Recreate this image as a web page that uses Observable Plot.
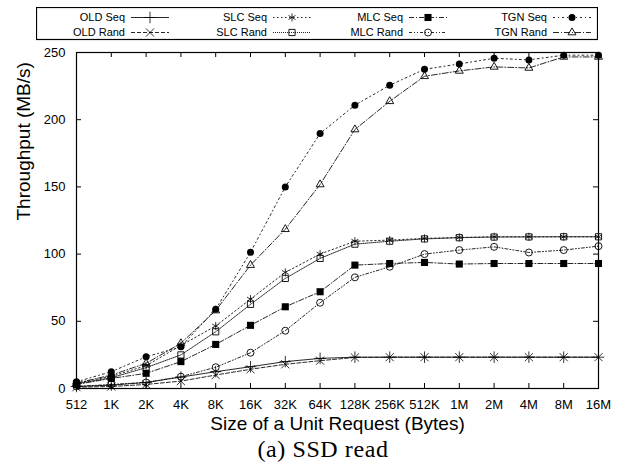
<!DOCTYPE html>
<html><head><meta charset="utf-8">
<script src="https://cdn.jsdelivr.net/npm/d3@7"></script>
<script src="https://cdn.jsdelivr.net/npm/@observablehq/plot@0.6"></script>
<style>
html,body{margin:0;padding:0;background:#fff;}
#wrap{position:relative;width:624px;height:466px;overflow:hidden;background:#fff;font-family:"Liberation Sans",Arial,sans-serif;}
#legend{position:absolute;left:36px;top:7px;}
#chart{position:absolute;left:0;top:42px;}
#caption{position:absolute;left:0;width:646px;top:436px;line-height:27px;text-align:center;font-family:"Liberation Serif",serif;font-size:24px;letter-spacing:0.6px;color:#000;}
</style></head>
<body><div id="wrap"><div id="legend"></div><div id="chart"></div><div id="caption">(a) SSD read</div></div>
<script>
// ---- data ----
const sizeLabels = ["512","1K","2K","4K","8K","16K","32K","64K","128K","256K","512K","1M","2M","4M","8M","16M"];
const sizeBytes  = [512,1024,2048,4096,8192,16384,32768,65536,131072,262144,524288,1048576,2097152,4194304,8388608,16777216];
const yTicks = [0,50,100,150,200,250];

const oldSeq  = [1.5,2.5,4.5,8.5,12.5,16.2,20,22.4,23.3,23.3,23.3,23.3,23.3,23.3,23.3,23.3];
const oldRand = [1,1.5,3,5.5,10,14.3,18,20.7,23.1,23.3,23.3,23.3,23.3,23.3,23.3,23.3];
const slcSeq  = [4,9,17,32,46.5,66.5,86.4,100,109.6,110.4,111.7,112.4,112.9,112.9,112.9,112.9];
const slcRand = [3.5,8,15.5,25,42.2,62.6,81.9,96.8,107.4,109.6,111.3,112.2,112.7,112.8,112.9,112.9];
const mlcSeq  = [3,7.5,11.3,20,32.8,47,60.8,72,91.8,93,93.8,92.6,93,93,93,93];
const mlcRand = [1.5,3,4.5,8.8,15.8,26.6,43,63.8,82.7,90.6,100,103,105.4,101.2,103,105.9];
const tgnSeq  = [5,12.5,23.6,31,59,101.3,150,189.7,210.8,225.6,237.5,241.5,245.7,244.5,248,248];
const tgnRand = [4,10,18.7,33.6,58,91.8,118.5,151.8,192.7,213.7,232.3,236.3,239.3,238.5,246.7,246.7];

const seriesNames = ["OLD Seq","OLD Rand","SLC Seq","SLC Rand","MLC Seq","MLC Rand","TGN Seq","TGN Rand"];
const seriesValues = [oldSeq,oldRand,slcSeq,slcRand,mlcSeq,mlcRand,tgnSeq,tgnRand];

// ---- styles (gnuplot monochrome point/line types) ----
const styles = [
  {symbol:"plus",     fill:"none",  dash:null,          r:3.8, sw:0.8},
  {symbol:"times",    fill:"none",  dash:"4,2",         r:3.8, sw:0.8},
  {symbol:"asterisk", fill:"none",  dash:"1.5,2.5",     r:3.8, sw:0.8},
  {symbol:"square",   fill:"none",  dash:"1,1",         r:3.5, sw:0.9},
  {symbol:"square",   fill:"black", dash:"5,2,1,2",     r:4,   sw:0},
  {symbol:"circle",   fill:"none",  dash:"3,2,1,2,1,2", r:3.5, sw:0.9},
  {symbol:"circle",   fill:"black", dash:"2,3,1,3",     r:3.5, sw:0},
  {symbol:"triangle2",fill:"none",  dash:"6,2,1,2",     r:3.8, sw:0.9}
];

const series = seriesNames.map((name,i)=>({
  name, style: styles[i],
  data: sizeBytes.map((s,j)=>({size:s, value:seriesValues[i][j]}))
}));

const W = 624, H = 400, mL = 76, mR = 26, mT = 10, mB = 54;
const plotW = W - mL - mR, plotH = H - mT - mB;
const labelOf = new Map(sizeBytes.map((s,i)=>[s,sizeLabels[i]]));

const marks = [];
for (const s of series) {
  marks.push(Plot.line(s.data, {x:"size", y:"value", stroke:"#111", strokeWidth:0.9, strokeDasharray:s.style.dash}));
}
for (const s of series) {
  marks.push(Plot.dot(s.data, {x:"size", y:"value", symbol:s.style.symbol, r:s.style.r,
    fill:s.style.fill, stroke: s.style.fill==="black" ? "none" : "black", strokeWidth:s.style.sw}));
}
marks.push(
  Plot.tickX(sizeBytes, {x:d=>d, stroke:"black", insetTop: plotH-5}),
  Plot.tickX(sizeBytes, {x:d=>d, stroke:"black", insetBottom: plotH-5}),
  Plot.tickY(yTicks, {y:d=>d, stroke:"black", insetRight: plotW-5}),
  Plot.tickY(yTicks, {y:d=>d, stroke:"black", insetLeft: plotW-5}),
  Plot.frame({stroke:"black", strokeWidth:1.2}),
  Plot.axisX(sizeBytes, {tickSize:0, tickPadding:11, tickFormat:d=>labelOf.get(d), fontSize:13, label:null}),
  Plot.axisY(yTicks, {tickSize:0, tickPadding:11, fontSize:13, label:null}),
  Plot.text(["Size of a Unit Request (Bytes)"], {frameAnchor:"bottom", dy:41, fontSize:19, fill:"black"}),
  Plot.text(["Throughput (MB/s)"], {frameAnchor:"left", dx:-53, rotate:-90, fontSize:19, fill:"black"})
);

const chart = Plot.plot({
  width:W, height:H, marginLeft:mL, marginRight:mR, marginTop:mT, marginBottom:mB,
  style:{fontFamily:"'Liberation Sans', Arial, sans-serif", color:"black", background:"white"},
  x:{type:"log", base:2, domain:[512,16777216]},
  y:{domain:[0,250]},
  marks
});
document.getElementById("chart").appendChild(chart);

// ---- legend ----
const lg = d3.select("#legend").append("svg").attr("width",562).attr("height",34)
  .style("font-family","'Liberation Sans', Arial, sans-serif");
lg.append("rect").attr("x",0.5).attr("y",0.5).attr("width",561).attr("height",32)
  .attr("fill","white").attr("stroke","black").attr("stroke-width",1.2);
const colEnd = [89, 231, 367, 511];
const rowY = [10.5, 25.5];
const symMap = {plus:d3.symbolPlus,times:d3.symbolTimes,asterisk:d3.symbolAsterisk,square:d3.symbolSquare,circle:d3.symbolCircle,triangle2:d3.symbolTriangle2};
series.forEach((s,i)=>{
  const c = Math.floor(i/2), r = i%2;
  const xe = colEnd[c], y = rowY[r];
  const g = lg.append("g");
  g.append("text").attr("x",xe).attr("y",y).attr("dy","0.35em").attr("text-anchor","end")
    .attr("font-size",11).text(s.name);
  g.append("line").attr("x1",xe+6).attr("x2",xe+44).attr("y1",y).attr("y2",y)
    .attr("stroke","#111").attr("stroke-width",0.9).attr("stroke-dasharray",s.style.dash);
  g.append("path").attr("transform",`translate(${xe+25},${y})`)
    .attr("d", d3.symbol(symMap[s.style.symbol], Math.PI*s.style.r*s.style.r)())
    .attr("fill", s.style.fill).attr("stroke", s.style.fill==="black"?"none":"black").attr("stroke-width",s.style.sw);
});
</script>
</body></html>
